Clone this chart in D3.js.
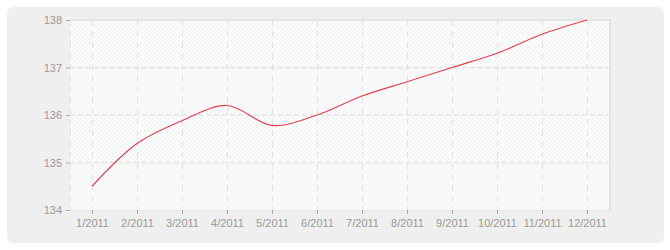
<!DOCTYPE html>
<html><head><meta charset="utf-8">
<script src="https://cdn.jsdelivr.net/npm/d3@7"></script>
<style>html,body{margin:0;padding:0;background:#fff;}svg{display:block;}</style>
</head><body>
<svg id="c" width="670" height="250"></svg>
<script>
const months = ["1/2011","2/2011","3/2011","4/2011","5/2011","6/2011","7/2011","8/2011","9/2011","10/2011","11/2011","12/2011"];
const values = [134.5, 135.4, 135.88, 136.2, 135.78, 136.0, 136.4, 136.7, 137.0, 137.3, 137.7, 138.0];
const yTicks = [134, 135, 136, 137, 138];

const svg = d3.select("#c");
const W = 670, H = 250;
const plot = {left: 70, top: 20, right: 610, bottom: 210};

const defs = svg.append("defs");
function hatch(id, bg, line) {
  const p = defs.append("pattern").attr("id", id).attr("patternUnits", "userSpaceOnUse")
    .attr("width", 4).attr("height", 4);
  p.append("rect").attr("width", 4).attr("height", 4).attr("fill", bg);
  p.append("path").attr("d", "M-1,1 l2,-2 M0,4 l4,-4 M3,5 l2,-2")
    .attr("stroke", line).attr("stroke-width", 1);
}
hatch("h1", "#ffffff", "#eeeeee");
hatch("h2", "#fafafa", "#f4f4f4");

svg.append("rect").attr("x", 7).attr("y", 7).attr("width", 657).attr("height", 236)
  .attr("rx", 6).attr("fill", "#efefef");

const x = d3.scalePoint().domain(months).range([92, 587]);
const y = d3.scaleLinear().domain([134, 138]).range([plot.bottom, plot.top]);

// bands
const bands = d3.range(yTicks.length - 1).map(i => [yTicks[i], yTicks[i + 1]]);
svg.append("g").selectAll("rect").data(bands).join("rect")
  .attr("x", plot.left).attr("width", plot.right - plot.left)
  .attr("y", d => y(d[1])).attr("height", d => y(d[0]) - y(d[1]))
  .attr("fill", (d, i) => i % 2 === 1 ? "url(#h1)" : "url(#h2)");

// grid
svg.append("g").selectAll("line").data(yTicks.slice(1, -1)).join("line")
  .attr("x1", plot.left).attr("x2", plot.right)
  .attr("y1", d => y(d)).attr("y2", d => y(d))
  .attr("stroke", "#e4e4e4").attr("stroke-width", 1.5).attr("stroke-dasharray", "5,3");
svg.append("g").selectAll("line").data(months).join("line")
  .attr("x1", d => x(d) + 0.5).attr("x2", d => x(d) + 0.5)
  .attr("y1", plot.top).attr("y2", plot.bottom)
  .attr("stroke", "#e2e2e2").attr("stroke-width", 1).attr("stroke-dasharray", "6,5");

// borders
svg.append("line").attr("x1", plot.left + 0.5).attr("x2", plot.left + 0.5)
  .attr("y1", plot.top).attr("y2", plot.bottom)
  .attr("stroke", "#e2e2e2").attr("stroke-dasharray", "6,5");
svg.append("line").attr("x1", plot.left).attr("x2", plot.right + 1)
  .attr("y1", plot.top).attr("y2", plot.top).attr("stroke", "#e4e4e4").attr("stroke-width", 2);
svg.append("line").attr("x1", plot.right).attr("x2", plot.right)
  .attr("y1", plot.top - 1).attr("y2", plot.bottom + 1).attr("stroke", "#e2e2e2").attr("stroke-width", 2);
svg.append("line").attr("x1", plot.left).attr("x2", plot.right)
  .attr("y1", plot.bottom + 0.5).attr("y2", plot.bottom + 0.5).attr("stroke", "#e8e8e8");

// axes
const yAxis = svg.append("g").attr("transform", `translate(${plot.left},0)`)
  .call(d3.axisLeft(y).tickValues(yTicks).tickSize(4).tickPadding(4).tickFormat(d3.format("d")));
const xAxis = svg.append("g").attr("transform", `translate(0,${plot.bottom})`)
  .call(d3.axisBottom(x).tickSize(4).tickPadding(5));
[yAxis, xAxis].forEach(a => {
  a.select(".domain").remove();
  a.selectAll(".tick line").attr("stroke", "#aaaaaa");
  a.selectAll("text").attr("fill", "#999999").style("font-family", "'Liberation Sans', Arial, sans-serif").style("font-size", "11px");
});

// line
const line = d3.line().x((d, i) => x(months[i])).y(d => y(d)).curve(d3.curveCatmullRom.alpha(0.5));
svg.append("path").datum(values).attr("d", line)
  .attr("fill", "none").attr("stroke", "#e0404f").attr("stroke-width", 1.2);
</script>
</body></html>
